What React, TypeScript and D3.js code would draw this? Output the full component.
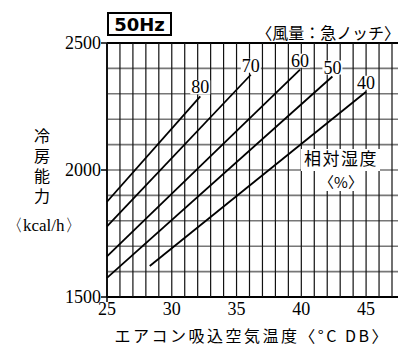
import React from "react";
import * as d3 from "d3";

// Relative humidity curves: capacity (kcal/h) vs. intake air dry-bulb temp (°C)
const humidityLevels = ["80", "70", "60", "50", "40"];
const startTemps = [25, 25, 25, 25, 28.3];
const startCapacity = [1875, 1778, 1660, 1575, 1622];
const endTemps = [32.2, 36.1, 39.9, 42.4, 45];
const endCapacity = [2290, 2375, 2395, 2368, 2308];

const xTicks = [25, 30, 35, 40, 45];
const yTicks = [1500, 2000, 2500];
const yTitle = "冷房能力";

const W = 402;
const H = 347;

export default function App() {
  const x = d3.scaleLinear().domain([25, 47]).range([107, 392]);
  const y = d3.scaleLinear().domain([1500, 2500]).range([297, 43]);

  const vGrid = d3.range(25, 48, 1);
  const hGrid = d3.range(1500, 2501, 100);

  const line = d3
    .line<[number, number]>()
    .x((d) => x(d[0]))
    .y((d) => y(d[1]));

  const serif = "'Liberation Serif', 'DejaVu Serif', serif";
  const cjk = "'Noto Sans CJK JP', sans-serif";

  return (
    <svg
      width={W}
      height={H}
      style={{ position: "absolute", left: 0, top: 0, background: "#fff" }}
    >
      <rect x={0} y={0} width={W} height={H} fill="#fff" />

      {/* horizontal grid */}
      {hGrid.map((v) => (
        <line
          key={"h" + v}
          x1={x(25)}
          x2={398}
          y1={y(v)}
          y2={y(v)}
          stroke={v === 1500 || v === 2500 ? "#000" : "#777"}
          strokeWidth={v === 2500 || v === 1500 ? 2 : 1.6}
        />
      ))}
      {/* vertical grid */}
      {vGrid.map((t) => (
        <line
          key={"v" + t}
          x1={x(t)}
          x2={x(t)}
          y1={y(2500)}
          y2={y(1500)}
          stroke="#111"
          strokeWidth={t === 25 ? 2 : 1.2}
        />
      ))}

      {/* axis ticks */}
      {yTicks.map((v) => (
        <line
          key={"yt" + v}
          x1={x(25) - 6}
          x2={x(25)}
          y1={y(v)}
          y2={y(v)}
          stroke="#000"
          strokeWidth={1.5}
        />
      ))}
      <line x1={x(25)} x2={x(25)} y1={y(1500)} y2={y(1500) + 5} stroke="#000" strokeWidth={1.5} />

      {/* humidity curves */}
      {humidityLevels.map((h, i) => (
        <path
          key={"c" + h}
          d={
            line([
              [startTemps[i], startCapacity[i]],
              [endTemps[i], endCapacity[i]],
            ]) || ""
          }
          fill="none"
          stroke="#000"
          strokeWidth={1.8}
        />
      ))}

      {/* curve labels */}
      {humidityLevels.map((h, i) => {
        const cx = x(endTemps[i]);
        const by = y(endCapacity[i]) - 3;
        return (
          <g key={"l" + h}>
            <rect x={cx - 10} y={by - 13} width={20} height={14} fill="#fff" />
            <text
              x={cx}
              y={by}
              textAnchor="middle"
              fontFamily={serif}
              fontSize={18}
              fill="#000"
            >
              {h}
            </text>
          </g>
        );
      })}

      {/* humidity legend */}
      <rect x={301} y={149} width={79} height={22} fill="#fff" />
      <rect x={318} y={171} width={47} height={20} fill="#fff" />
      <text
        x={341}
        y={164.5}
        textAnchor="middle"
        fontFamily={cjk}
        fontSize={17}
        letterSpacing={1.5}
        fill="#000"
      >
        相対湿度
      </text>
      <text x={341} y={188} textAnchor="middle" fontFamily={cjk} fontSize={15} fill="#000">
        〈%〉
      </text>

      {/* y tick labels */}
      {yTicks.map((v) => (
        <text
          key={"yl" + v}
          x={x(25) - 6}
          y={y(v)}
          dy="0.35em"
          textAnchor="end"
          fontFamily={serif}
          fontSize={18}
          fill="#000"
        >
          {v}
        </text>
      ))}
      {/* x tick labels */}
      {xTicks.map((t) => (
        <text
          key={"xl" + t}
          x={x(t)}
          y={315}
          textAnchor="middle"
          fontFamily={serif}
          fontSize={18}
          fill="#000"
        >
          {t}
        </text>
      ))}

      {/* axis titles */}
      <text
        x={251}
        y={342}
        textAnchor="middle"
        fontFamily={cjk}
        fontSize={16}
        textLength={273}
        lengthAdjust="spacing"
        fill="#000"
      >
        エアコン吸込空気温度〈°C DB〉
      </text>
      <text
        x={42}
        y={128}
        fontFamily={cjk}
        fontSize={16}
        fill="#000"
        style={{ writingMode: "vertical-rl", letterSpacing: "4px" }}
      >
        {yTitle}
      </text>
      <text x={6} y={231} fontFamily={serif} fontSize={17} fill="#000">
        〈kcal/h〉
      </text>

      {/* header */}
      <rect x={108} y={13} width={63} height={22} fill="#fff" stroke="#000" strokeWidth={2} />
      <text
        x={139.5}
        y={31}
        textAnchor="middle"
        fontFamily="'DejaVu Sans', sans-serif"
        fontWeight="bold"
        fontSize={18}
        fill="#000"
      >
        50Hz
      </text>
      <text x={400} y={39} textAnchor="end" fontFamily={cjk} fontSize={16} fill="#000">
        〈風量：急ノッチ〉
      </text>
    </svg>
  );
}
